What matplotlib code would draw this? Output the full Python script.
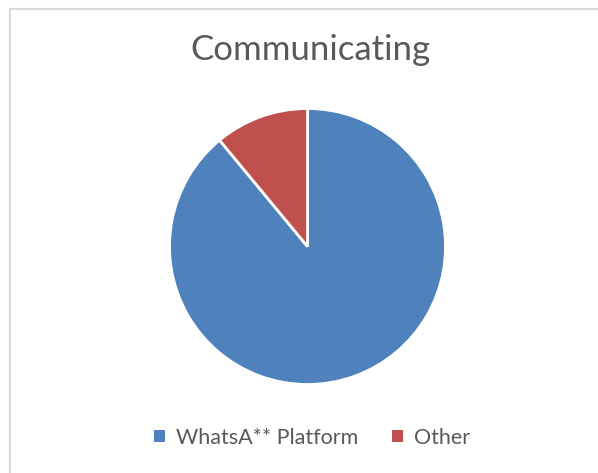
import matplotlib
matplotlib.use("Agg")
import matplotlib.pyplot as plt
from matplotlib.patches import Rectangle
from matplotlib.lines import Line2D

title = "Communicating"
labels = ["WhatsA** Platform", "Other"]
values = [89, 11]
colors = ["#4F81BD", "#C0504D"]

W, H = 598, 473
fig = plt.figure(figsize=(W / 100, H / 100), dpi=100)
fig.patch.set_facecolor("white")

# border (chart area frame)
fig.add_artist(Line2D([9.5 / W, 9.5 / W], [0, 1 - 9.5 / H], transform=fig.transFigure,
                      color="#d9d9d9", lw=1.5))
fig.add_artist(Line2D([9.5 / W, 1], [1 - 9.5 / H, 1 - 9.5 / H], transform=fig.transFigure,
                      color="#d9d9d9", lw=1.5))

cx, cy, r = 307.5, 246.5, 138
ax = fig.add_axes([(cx - r) / W, (H - cy - r) / H, 2 * r / W, 2 * r / H])
wedges, _ = ax.pie(values, colors=colors, startangle=90, counterclock=False,
                   radius=1, wedgeprops=dict(edgecolor="white", linewidth=2))
ax.set_xlim(-1.0, 1.0)
ax.set_ylim(-1.0, 1.0)
ax.set_aspect("equal")
ax.axis("off")

fig.text(310 / W, 1 - 50 / H, title, ha="center", va="center",
         fontsize=25, color="#595959", family="Lato")

handles = [Rectangle((0, 0), 1, 1, facecolor=c, edgecolor="none") for c in colors]
leg = fig.legend(handles, labels, loc="center", bbox_to_anchor=(312 / W, 1 - 438 / H),
                 ncol=2, frameon=False, handlelength=0.5, handleheight=0.5,
                 handletextpad=0.5, columnspacing=1.6,
                 prop=dict(family="Lato", size=15.5))
for t in leg.get_texts():
    t.set_color("#595959")

fig.savefig("out.png", dpi=100, facecolor="white")
